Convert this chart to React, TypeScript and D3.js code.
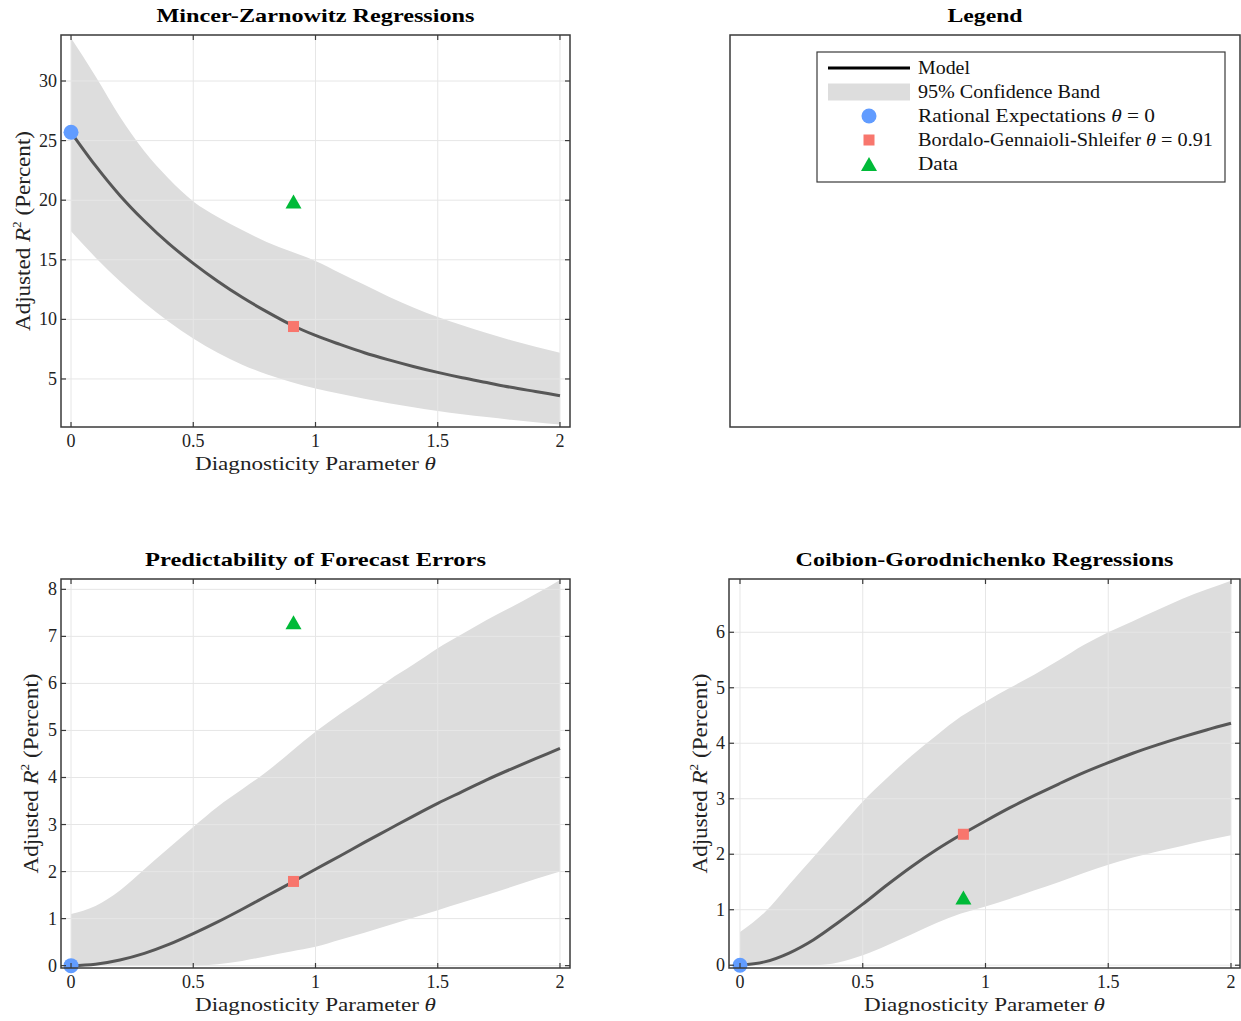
import React from "react";
import * as d3 from "d3";

const thetaGrid = [0, 0.1, 0.2, 0.3, 0.4, 0.5, 0.6, 0.7, 0.8, 0.9, 1.0, 1.1, 1.2, 1.3, 1.4, 1.5, 1.6, 1.7, 1.8, 1.9, 2.0];

// Mincer-Zarnowitz
const mzModel = [25.7, 22.9, 20.4, 18.25, 16.35, 14.7, 13.2, 11.85, 10.65, 9.55, 8.65, 7.9, 7.2, 6.6, 6.05, 5.55, 5.1, 4.7, 4.3, 3.95, 3.6];
const mzUpper = [33.6, 30.4, 27.0, 24.1, 21.8, 19.9, 18.6, 17.5, 16.5, 15.7, 14.9, 13.9, 12.9, 11.9, 11.0, 10.2, 9.5, 8.85, 8.25, 7.7, 7.2];
const mzLower = [17.4, 15.2, 13.2, 11.4, 9.8, 8.4, 7.2, 6.2, 5.4, 4.75, 4.2, 3.75, 3.35, 2.97, 2.63, 2.32, 2.05, 1.8, 1.57, 1.37, 1.18];
const mzPoints = { re: 25.7, bgs: 9.4, data: 19.9 };

// Predictability of forecast errors
const pfModel = [0, 0.03, 0.12, 0.26, 0.45, 0.68, 0.93, 1.2, 1.48, 1.76, 2.05, 2.33, 2.62, 2.9, 3.18, 3.45, 3.7, 3.95, 4.18, 4.4, 4.62];
const pfUpper = [1.1, 1.27, 1.6, 2.05, 2.5, 2.95, 3.38, 3.75, 4.12, 4.55, 4.97, 5.35, 5.7, 6.07, 6.4, 6.75, 7.05, 7.35, 7.62, 7.9, 8.2];
const pfLower = [0, 0, 0, 0, 0, 0, 0.03, 0.1, 0.2, 0.3, 0.4, 0.55, 0.7, 0.86, 1.02, 1.18, 1.34, 1.5, 1.67, 1.84, 2.0];
const pfPoints = { re: 0, bgs: 1.79, data: 7.3 };

// Coibion-Gorodnichenko
const cgModel = [0, 0.06, 0.22, 0.46, 0.77, 1.1, 1.45, 1.78, 2.08, 2.35, 2.6, 2.84, 3.06, 3.27, 3.47, 3.65, 3.82, 3.97, 4.11, 4.24, 4.36];
const cgUpper = [0.6, 0.95, 1.45, 1.95, 2.45, 2.95, 3.38, 3.78, 4.14, 4.48, 4.75, 5.0, 5.24, 5.5, 5.77, 6.0, 6.2, 6.4, 6.6, 6.77, 6.93];
const cgLower = [0, 0, 0, 0, 0.05, 0.18, 0.36, 0.56, 0.76, 0.93, 1.06, 1.2, 1.35, 1.5, 1.66, 1.81, 1.94, 2.05, 2.15, 2.25, 2.34];
const cgPoints = { re: 0, bgs: 2.36, data: 1.22 };

const bgsTheta = 0.91;
const xTicks = [0, 0.5, 1, 1.5, 2];
const xTickLabels = ["0", "0.5", "1", "1.5", "2"];
const mzYTicks = [5, 10, 15, 20, 25, 30];
const pfYTicks = [0, 1, 2, 3, 4, 5, 6, 7, 8];
const cgYTicks = [0, 1, 2, 3, 4, 5, 6];

const legendLabels = ["Model", "95% Confidence Band", "Rational Expectations ", "Bordalo-Gennaioli-Shleifer ", "Data"];

const FONT = "'Liberation Serif', 'Times New Roman', serif";
const BLUE = "#619CFF";
const RED = "#F8766D";
const GREEN = "#00BA38";
const BAND = "#dddddd";
const LINE = "#575757";
const GRID = "#e6e6e6";
const AXIS = "#3a3a3a";

type PanelProps = {
  title: string;
  titleLen: number;
  box: { l: number; r: number; t: number; b: number };
  xDom: [number, number];
  yDom: [number, number];
  yTicks: number[];
  model: number[];
  upper: number[];
  lower: number[];
  pts: { re: number; bgs: number; data: number };
  yLabelX: number;
};

function Panel(p: PanelProps) {
  const { box } = p;
  const x = d3.scaleLinear().domain(p.xDom).range([box.l, box.r]);
  const y = d3.scaleLinear().domain(p.yDom).range([box.b, box.t]);
  const rows = thetaGrid.map((t, i) => ({ t, m: p.model[i], u: p.upper[i], lo: p.lower[i] }));
  const area = d3
    .area<any>()
    .x((d) => x(d.t))
    .y0((d) => y(d.lo))
    .y1((d) => y(d.u))
    .curve(d3.curveMonotoneX);
  const line = d3
    .line<any>()
    .x((d) => x(d.t))
    .y((d) => y(d.m))
    .curve(d3.curveMonotoneX);
  const cx = (box.l + box.r) / 2;
  const cy = (box.t + box.b) / 2;
  const tk = 5;
  const sqS = 11;
  const triW = 16;
  const triH = 14;
  const tx = x(bgsTheta);
  const ty = y(p.pts.data);
  return (
    <g>
      <text x={cx} y={box.t - 13} textAnchor="middle" fontFamily={FONT} fontWeight="bold" fontSize={19} textLength={p.titleLen} lengthAdjust="spacingAndGlyphs">
        {p.title}
      </text>
      <path d={area(rows) || ""} fill={BAND} />
      {xTicks.map((v) => (
        <line key={"gx" + v} x1={x(v)} x2={x(v)} y1={box.t} y2={box.b} stroke={GRID} strokeWidth={1} />
      ))}
      {p.yTicks.map((v) => (
        <line key={"gy" + v} x1={box.l} x2={box.r} y1={y(v)} y2={y(v)} stroke={GRID} strokeWidth={1} />
      ))}
      <path d={line(rows) || ""} fill="none" stroke={LINE} strokeWidth={3} />
      <circle cx={x(0)} cy={y(p.pts.re)} r={7.5} fill={BLUE} />
      <rect x={x(bgsTheta) - sqS / 2} y={y(p.pts.bgs) - sqS / 2} width={sqS} height={sqS} fill={RED} />
      <path d={`M${tx - triW / 2},${ty + triH / 2}L${tx + triW / 2},${ty + triH / 2}L${tx},${ty - triH / 2}Z`} fill={GREEN} />
      <rect x={box.l} y={box.t} width={box.r - box.l} height={box.b - box.t} fill="none" stroke={AXIS} strokeWidth={1.5} />
      {xTicks.map((v, i) => (
        <g key={"tx" + v}>
          <line x1={x(v)} x2={x(v)} y1={box.b} y2={box.b - tk} stroke={AXIS} strokeWidth={1.2} />
          <line x1={x(v)} x2={x(v)} y1={box.t} y2={box.t + tk} stroke={AXIS} strokeWidth={1.2} />
          <text x={x(v)} y={box.b + 20} textAnchor="middle" fontFamily={FONT} fontSize={18} fill="#222">
            {xTickLabels[i]}
          </text>
        </g>
      ))}
      {p.yTicks.map((v) => (
        <g key={"ty" + v}>
          <line x1={box.l} x2={box.l + tk} y1={y(v)} y2={y(v)} stroke={AXIS} strokeWidth={1.2} />
          <line x1={box.r} x2={box.r - tk} y1={y(v)} y2={y(v)} stroke={AXIS} strokeWidth={1.2} />
          <text x={box.l - 4} y={y(v) + 6} textAnchor="end" fontFamily={FONT} fontSize={18} fill="#222">
            {String(v)}
          </text>
        </g>
      ))}
      <text x={cx} y={box.b + 43} textAnchor="middle" fontFamily={FONT} fontSize={19} fill="#222" textLength={241} lengthAdjust="spacingAndGlyphs">
        Diagnosticity Parameter <tspan fontStyle="italic">θ</tspan>
      </text>
      <text transform={`translate(${p.yLabelX},${cy}) rotate(-90)`} textAnchor="middle" fontFamily={FONT} fontSize={21} fill="#222" textLength={200} lengthAdjust="spacingAndGlyphs">
        Adjusted <tspan fontStyle="italic">R</tspan>
        <tspan fontSize={12} dy={-9}>2</tspan>
        <tspan dy={9}> (Percent)</tspan>
      </text>
    </g>
  );
}

function LegendPanel() {
  const box = { l: 730, r: 1240, t: 35, b: 427 };
  const lb = { l: 817, r: 1225, t: 52, b: 182 };
  const rowY = [68, 92, 116, 140, 164];
  const sx0 = 828;
  const sx1 = 910;
  const mx = 869;
  const textX = 918;
  return (
    <g>
      <text x={(box.l + box.r) / 2} y={box.t - 13} textAnchor="middle" fontFamily={FONT} fontWeight="bold" fontSize={19} textLength={75} lengthAdjust="spacingAndGlyphs">
        Legend
      </text>
      <rect x={box.l} y={box.t} width={box.r - box.l} height={box.b - box.t} fill="none" stroke={AXIS} strokeWidth={1.5} />
      <rect x={lb.l} y={lb.t} width={lb.r - lb.l} height={lb.b - lb.t} fill="#fff" stroke={AXIS} strokeWidth={1.2} />
      <line x1={sx0} x2={sx1} y1={rowY[0]} y2={rowY[0]} stroke="#000" strokeWidth={3} />
      <rect x={sx0} y={rowY[1] - 8.5} width={sx1 - sx0} height={17} fill={BAND} />
      <circle cx={mx} cy={rowY[2]} r={7.5} fill={BLUE} />
      <rect x={mx - 5.5} y={rowY[3] - 5.5} width={11} height={11} fill={RED} />
      <path d={`M${mx - 8},${rowY[4] + 7}L${mx + 8},${rowY[4] + 7}L${mx},${rowY[4] - 7}Z`} fill={GREEN} />
      <text x={textX} y={rowY[0] + 6} fontFamily={FONT} fontSize={18} fill="#111" textLength={52} lengthAdjust="spacingAndGlyphs">{legendLabels[0]}</text>
      <text x={textX} y={rowY[1] + 6} fontFamily={FONT} fontSize={18} fill="#111" textLength={182} lengthAdjust="spacingAndGlyphs">{legendLabels[1]}</text>
      <text x={textX} y={rowY[2] + 6} fontFamily={FONT} fontSize={18} fill="#111" textLength={237} lengthAdjust="spacingAndGlyphs">
        {legendLabels[2]}<tspan fontStyle="italic">θ</tspan> = 0
      </text>
      <text x={textX} y={rowY[3] + 6} fontFamily={FONT} fontSize={18} fill="#111" textLength={295} lengthAdjust="spacingAndGlyphs">
        {legendLabels[3]}<tspan fontStyle="italic">θ</tspan> = 0.91
      </text>
      <text x={textX} y={rowY[4] + 6} fontFamily={FONT} fontSize={18} fill="#111" textLength={40} lengthAdjust="spacingAndGlyphs">{legendLabels[4]}</text>
    </g>
  );
}

export default function App() {
  return (
    <svg width={1241} height={1021} style={{ position: "absolute", left: 0, top: 0, background: "#fff" }}>
      <rect x={0} y={0} width={1241} height={1021} fill="#fff" />
      <Panel
        title="Mincer-Zarnowitz Regressions"
        titleLen={318}
        box={{ l: 61, r: 570, t: 35, b: 427 }}
        xDom={[-0.041, 2.041]}
        yDom={[0.97, 33.86]}
        yTicks={mzYTicks}
        model={mzModel}
        upper={mzUpper}
        lower={mzLower}
        pts={mzPoints}
        yLabelX={30}
      />
      <LegendPanel />
      <Panel
        title="Predictability of Forecast Errors"
        titleLen={341}
        box={{ l: 61, r: 570, t: 579, b: 968 }}
        xDom={[-0.041, 2.041]}
        yDom={[-0.05, 8.22]}
        yTicks={pfYTicks}
        model={pfModel}
        upper={pfUpper}
        lower={pfLower}
        pts={pfPoints}
        yLabelX={38}
      />
      <Panel
        title="Coibion-Gorodnichenko Regressions"
        titleLen={378}
        box={{ l: 729, r: 1240, t: 579, b: 968 }}
        xDom={[-0.0448, 2.0367]}
        yDom={[-0.05, 6.96]}
        yTicks={cgYTicks}
        model={cgModel}
        upper={cgUpper}
        lower={cgLower}
        pts={cgPoints}
        yLabelX={707}
      />
    </svg>
  );
}
